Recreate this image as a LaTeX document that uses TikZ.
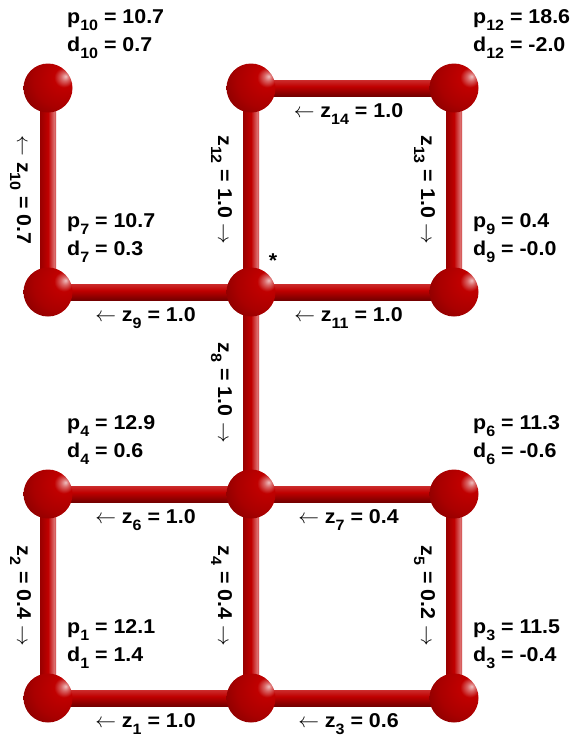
\documentclass[tikz,border=0pt]{standalone}
\usepackage{fontspec}
\setmainfont[FakeStretch=1.07]{Liberation Sans}
\usetikzlibrary{calc}
\definecolor{rodred}{HTML}{C00000}
\definecolor{roddark}{HTML}{680000}
\pgfdeclareverticalshading{hrodshade}{100bp}{color(0bp)=(roddark); color(20bp)=(roddark); color(55bp)=(rodred); color(78bp)=(rodred!80!white); color(88bp)=(rodred); color(100bp)=(rodred!70!black)}
\pgfdeclarehorizontalshading{vrodshade}{100bp}{color(0bp)=(rodred!60!black); color(20bp)=(rodred!75!black); color(50bp)=(rodred); color(70bp)=(rodred!55!white); color(80bp)=(rodred); color(100bp)=(roddark)}
\pgfdeclareradialshading{redball}{\pgfpoint{18bp}{12bp}}{color(0bp)=(rodred!25!white); color(4bp)=(rodred!60!white); color(10bp)=(rodred); color(28bp)=(rodred!88!black); color(45bp)=(rodred!68!black); color(62bp)=(rodred!50!black); color(100bp)=(rodred!35!black)}
\pgfdeclarelayer{bg}
\pgfsetlayers{bg,main}
\newcommand{\lowidx}[1]{\raisebox{-7pt}{\fontsize{15}{15}\selectfont #1}}
\tikzset{
  atom/.style={circle,shading=redball,minimum size=49pt,inner sep=0pt},
  hrod/.style={shading=hrodshade},
  vrod/.style={shading=vrodshade},
  lbl/.style={inner sep=0pt,font=\fontsize{20}{24}\selectfont\bfseries},
  pd/.style={lbl,anchor=base west},
  zh/.style={lbl,anchor=base},
  zv/.style={lbl,anchor=base,rotate=-90},
}
\begin{document}
\begin{tikzpicture}[x=1pt,y=-1pt]
  \useasboundingbox (0,0) rectangle (571,737);
  % atoms
  \node[atom] (n1) at (48,698) {};
  \node[atom] (n2) at (251,698) {};
  \node[atom] (n3) at (454,698) {};
  \node[atom] (n4) at (48,494) {};
  \node[atom] (n5) at (251,494) {};
  \node[atom] (n6) at (454,494) {};
  \node[atom] (n7) at (48,292) {};
  \node[atom] (n8) at (251,292) {};
  \node[atom] (n9) at (454,292) {};
  \node[atom] (n10) at (48,88) {};
  \node[atom] (n11) at (251,88) {};
  \node[atom] (n12) at (454,88) {};
  % rods behind the atoms
  \begin{pgfonlayer}{bg}
    \fill[white] (0,0) rectangle (571,737);
    \foreach \a/\b in {n1/n2,n2/n3,n4/n5,n5/n6,n7/n8,n8/n9,n11/n12}
      \shade[hrod] ($(\a)+(0,-8)$) rectangle ($(\b)+(0,8)$);
    \foreach \a/\b in {n1/n4,n2/n5,n3/n6,n5/n8,n7/n10,n8/n11,n9/n12}
      \shade[vrod] ($(\a)+(-8,0)$) rectangle ($(\b)+(8,0)$);
  \end{pgfonlayer}
  % p and d
  \node[pd] (p1) at ($(n1)+(19,-65)$) {p\lowidx{1} = 12.1};
  \node[pd] (d1) at ($(n1)+(19,-37)$) {d\lowidx{1} = 1.4};
  \node[pd] (p3) at ($(n3)+(19,-65)$) {p\lowidx{3} = 11.5};
  \node[pd] (d3) at ($(n3)+(19,-37)$) {d\lowidx{3} = -0.4};
  \node[pd] (p4) at ($(n4)+(19,-65)$) {p\lowidx{4} = 12.9};
  \node[pd] (d4) at ($(n4)+(19,-37)$) {d\lowidx{4} = 0.6};
  \node[pd] (p6) at ($(n6)+(19,-65)$) {p\lowidx{6} = 11.3};
  \node[pd] (d6) at ($(n6)+(19,-37)$) {d\lowidx{6} = -0.6};
  \node[pd] (p7) at ($(n7)+(19,-65)$) {p\lowidx{7} = 10.7};
  \node[pd] (d7) at ($(n7)+(19,-37)$) {d\lowidx{7} = 0.3};
  \node[pd] (p9) at ($(n9)+(19,-65)$) {p\lowidx{9} = 0.4};
  \node[pd] (d9) at ($(n9)+(19,-37)$) {d\lowidx{9} = -0.0};
  \node[pd] (p10) at ($(n10)+(19,-65)$) {p\lowidx{10} = 10.7};
  \node[pd] (d10) at ($(n10)+(19,-37)$) {d\lowidx{10} = 0.7};
  \node[pd] (p12) at ($(n12)+(19,-65)$) {p\lowidx{12} = 18.6};
  \node[pd] (d12) at ($(n12)+(19,-37)$) {d\lowidx{12} = -2.0};
  \node[lbl,anchor=base] (star) at ($(n8)+(22,-25)$) {*};
  % flows on the rods
  \node[zh] (z1) at ($(n1)!0.5!(n2)+(-4,29)$) {$\leftarrow$ z\lowidx{1} = 1.0};
  \node[zh] (z3) at ($(n2)!0.5!(n3)+(-4,29)$) {$\leftarrow$ z\lowidx{3} = 0.6};
  \node[zh] (z6) at ($(n4)!0.5!(n5)+(-4,29)$) {$\leftarrow$ z\lowidx{6} = 1.0};
  \node[zh] (z7) at ($(n5)!0.5!(n6)+(-4,29)$) {$\leftarrow$ z\lowidx{7} = 0.4};
  \node[zh] (z9) at ($(n7)!0.5!(n8)+(-4,29)$) {$\leftarrow$ z\lowidx{9} = 1.0};
  \node[zh] (z11) at ($(n8)!0.5!(n9)+(-4,29)$) {$\leftarrow$ z\lowidx{11} = 1.0};
  \node[zh] (z14) at ($(n11)!0.5!(n12)+(-4,29)$) {$\leftarrow$ z\lowidx{14} = 1.0};
  \node[zv] (z2) at ($(n1)!0.5!(n4)+(-31,0)$) {z\lowidx{2} = 0.4 $\rightarrow$};
  \node[zv] (z4) at ($(n2)!0.5!(n5)+(-33,0)$) {z\lowidx{4} = 0.4 $\rightarrow$};
  \node[zv] (z5) at ($(n3)!0.5!(n6)+(-33,0)$) {z\lowidx{5} = 0.2 $\rightarrow$};
  \node[zv] (z8) at ($(n5)!0.5!(n8)+(-33,0)$) {z\lowidx{8} = 1.0 $\rightarrow$};
  \node[zv] (z10) at ($(n7)!0.5!(n10)+(-31,0)$) {$\leftarrow$ z\lowidx{10} = 0.7};
  \node[zv] (z12) at ($(n8)!0.5!(n11)+(-33,0)$) {z\lowidx{12} = 1.0 $\rightarrow$};
  \node[zv] (z13) at ($(n9)!0.5!(n12)+(-33,0)$) {z\lowidx{13} = 1.0 $\rightarrow$};
\end{tikzpicture}
\end{document}
